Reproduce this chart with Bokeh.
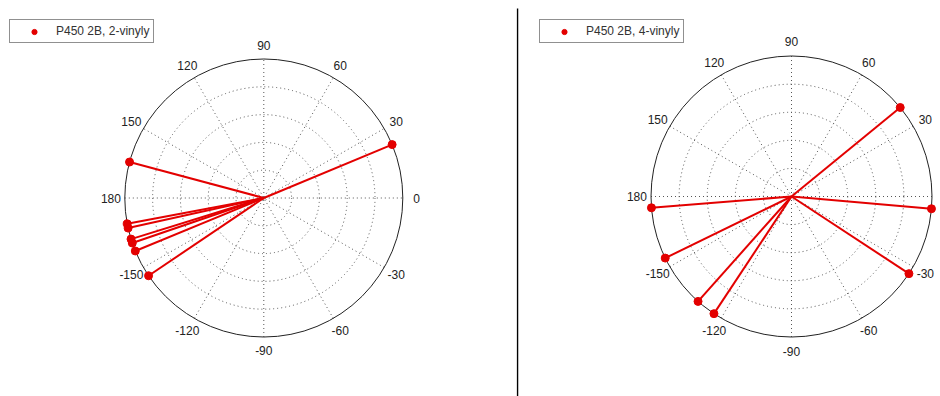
import numpy as np
from bokeh.plotting import figure
from bokeh.layouts import row
from bokeh.models import Legend, LegendItem, ColumnDataSource, Range1d
from bokeh.core.properties import value
from bokeh.embed import file_html
from bokeh.resources import INLINE

# Angles (degrees) of the unit vectors in each compass plot
angles_2vinyl = [22.6, 165.0, -169.3, -167.5, -162.8, -161.1, -157.6, -146.0]
angles_4vinyl = [39.3, -5.0, -33.3, -123.5, -131.7, -154.0, -175.4]
radii_2vinyl = [1.0] * len(angles_2vinyl)
radii_4vinyl = [1.0] * len(angles_4vinyl)

# Polar grid
ring_radii = [0.2, 0.4, 0.6, 0.8]
spoke_angles = [0, 30, 60, 90, 120, 150]
tick_angles = [0, 30, 60, 90, 120, 150, 180, -150, -120, -90, -60, -30]
tick_labels = ["0", "30", "60", "90", "120", "150", "180", "-150", "-120", "-90", "-60", "-30"]

FONT = "Liberation Sans"
RED = "#e30000"
H = 396


def polar_panel(width, center_px, radius_px, angles, radii, label, legend_xy, separator=False):
    cx, cy = center_px
    x0, x1 = -cx / radius_px, (width - cx) / radius_px
    p = figure(width=width, height=H, output_backend="svg", toolbar_location=None,
               x_range=Range1d(x0, x1),
               y_range=Range1d(-(H - cy) / radius_px, cy / radius_px),
               min_border=0, outline_line_color=None, background_fill_color="white")
    p.axis.visible = False
    p.grid.visible = False

    # dotted rings and spokes
    p.circle(x=[0] * len(ring_radii), y=[0] * len(ring_radii), radius=ring_radii,
             fill_color=None, line_color="#555555", line_width=1, line_dash="1 3")
    sa = np.radians(spoke_angles)
    p.segment(x0=-np.cos(sa), y0=-np.sin(sa), x1=np.cos(sa), y1=np.sin(sa),
              line_color="#555555", line_width=1, line_dash="1 3")
    # outer circle
    p.circle(x=[0], y=[0], radius=[1.0], fill_color=None, line_color="#222222", line_width=1)

    # angle labels (only those that fit inside the panel)
    ta = np.radians(tick_angles)
    lx, ly = 1.1 * np.cos(ta), 1.1 * np.sin(ta)
    keep = lx + 0.06 < x1
    p.text(x=lx[keep], y=ly[keep], text=[t for t, k in zip(tick_labels, keep) if k],
           text_font=value(FONT), text_font_size="12px", text_color="#222222",
           text_align="center", text_baseline="middle")

    # vectors
    a = np.radians(angles)
    r = np.array(radii)
    src = ColumnDataSource(dict(x=r * np.cos(a), y=r * np.sin(a)))
    p.segment(x0=0, y0=0, x1="x", y1="y", source=src, line_color=RED, line_width=2)
    pts = p.scatter(x="x", y="y", source=src, size=8, fill_color=RED, line_color=RED)

    legend = Legend(items=[LegendItem(label=label, renderers=[pts])],
                    location=legend_xy, orientation="vertical",
                    label_text_font=FONT, label_text_font_size="12px", label_text_color="#333333",
                    border_line_color="#222222", border_line_width=1,
                    background_fill_color="white", background_fill_alpha=1.0,
                    padding=4, margin=0, spacing=0, glyph_width=40, glyph_height=13,
                    label_height=13, label_standoff=2)
    p.add_layout(legend, "center")

    if separator:
        x_sep = x0 + 1.0 / radius_px
        p.segment(x0=[x_sep], y0=[-(H - cy) / radius_px], x1=[x_sep], y1=[(cy - 8) / radius_px],
                  line_color="black", line_width=1.5)
    return p


left = polar_panel(516, (263.3, 197.5), 139.0, angles_2vinyl, radii_2vinyl,
                   "P450 2B, 2-vinyly", (9, 353))
right = polar_panel(424, (275.0, 196.0), 140.5, angles_4vinyl, radii_4vinyl,
                    "P450 2B, 4-vinyly", (23, 353), separator=True)

layout = row(left, right, spacing=0)
open("out.html", "w").write(file_html(layout, INLINE))
